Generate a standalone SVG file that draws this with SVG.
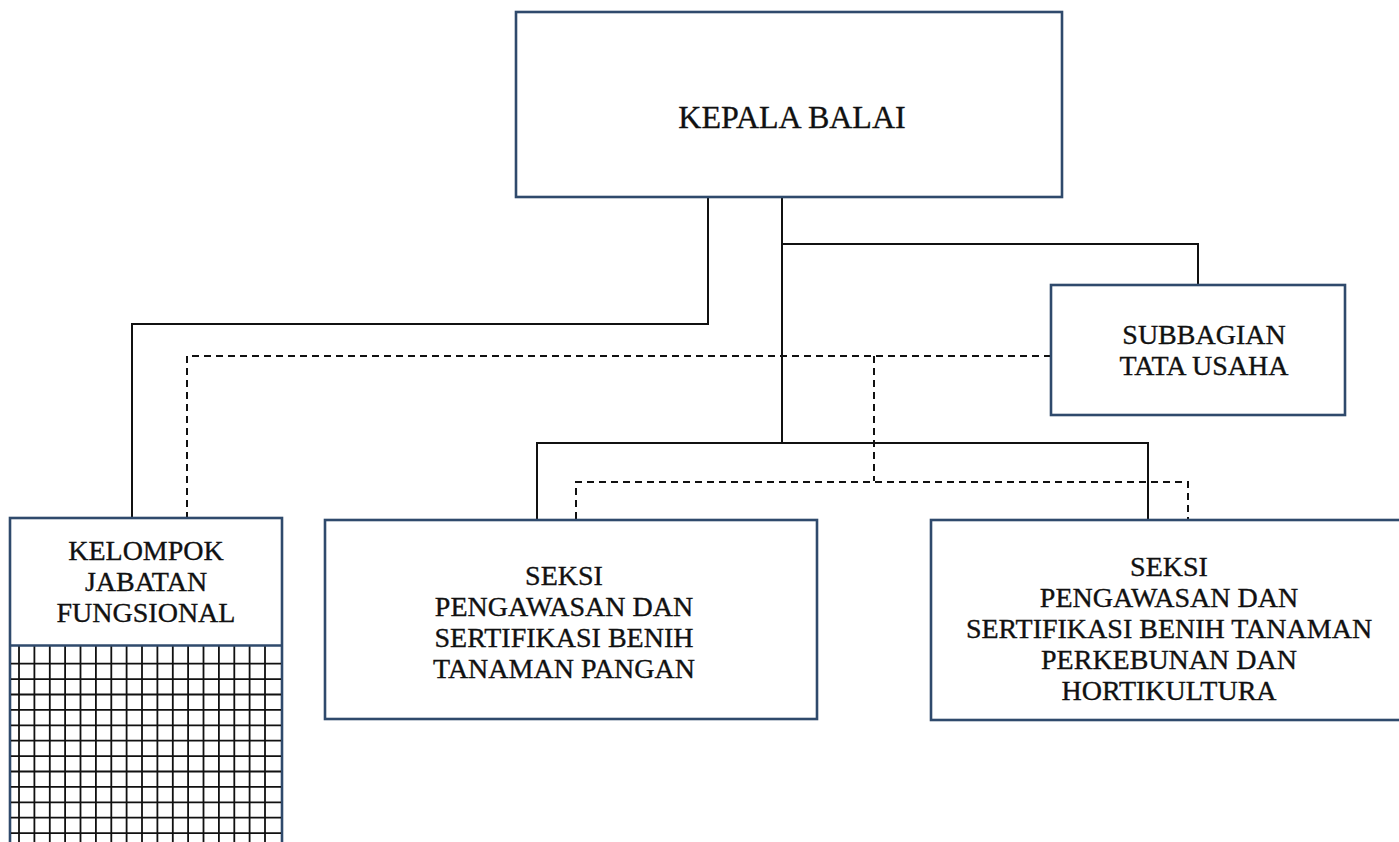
<svg xmlns="http://www.w3.org/2000/svg" width="1399" height="842" viewBox="0 0 1399 842">
<defs>
<style>
.box{fill:#fff;stroke:#2f4a6c;stroke-width:2.6}
.t{font-family:"Liberation Serif","DejaVu Serif",serif;font-size:28px;fill:#111;stroke:#111;stroke-width:0.35;text-anchor:middle}
.s{fill:none;stroke:#111;stroke-width:2}
.d{fill:none;stroke:#111;stroke-width:2;stroke-dasharray:7,5}
.g{fill:none;stroke:#111;stroke-width:1.8}
</style>
</defs>
<rect width="1399" height="842" fill="#fff"/>
<g id="connectors">
<path class="s" d="M708 197V324H132V518"/>
<path class="s" d="M782 197V443"/>
<path class="s" d="M782 244H1198V285"/>
<path class="s" d="M537 519V443H1148V519"/>
<path class="d" d="M1051 356H187V518"/>
<path class="d" d="M874 356V481"/>
<path class="d" d="M576 519V482H1188V519"/>
</g>
<g id="kepala">
<rect class="box" x="516" y="12" width="546" height="185"/>
<text class="t" x="792" y="128" style="font-size:32px">KEPALA BALAI</text>
</g>
<g id="subbagian">
<rect class="box" x="1051" y="285" width="294" height="130"/>
<text class="t" x="1204" y="344">SUBBAGIAN</text>
<text class="t" x="1204" y="375">TATA USAHA</text>
</g>
<g id="kelompok">
<rect class="box" x="10" y="518" width="272" height="340"/>
<path class="g" d="M19 646V842M34.4 646V842M49.8 646V842M65.1 646V842M80.5 646V842M95.9 646V842M111.3 646V842M126.6 646V842M142 646V842M157.4 646V842M172.8 646V842M188.1 646V842M203.5 646V842M218.9 646V842M234.3 646V842M249.6 646V842M265 646V842M11 663.7H281M11 679.1H281M11 694.5H281M11 709.9H281M11 725.3H281M11 740.7H281M11 756.1H281M11 771.5H281M11 786.9H281M11 802.3H281M11 817.7H281M11 833.1H281"/>
<path class="box" d="M10 645.5H282" style="fill:none"/>
<text class="t" x="146" y="560">KELOMPOK</text>
<text class="t" x="146" y="591">JABATAN</text>
<text class="t" x="146" y="622">FUNGSIONAL</text>
</g>
<g id="seksi1">
<rect class="box" x="325" y="520" width="492" height="199"/>
<text class="t" x="564" y="585">SEKSI</text>
<text class="t" x="564" y="616">PENGAWASAN DAN</text>
<text class="t" x="564" y="647">SERTIFIKASI BENIH</text>
<text class="t" x="564" y="678">TANAMAN PANGAN</text>
</g>
<g id="seksi2">
<rect class="box" x="931" y="520" width="490" height="200"/>
<text class="t" x="1169" y="576">SEKSI</text>
<text class="t" x="1169" y="607">PENGAWASAN DAN</text>
<text class="t" x="1169" y="638">SERTIFIKASI BENIH TANAMAN</text>
<text class="t" x="1169" y="669">PERKEBUNAN DAN</text>
<text class="t" x="1169" y="700">HORTIKULTURA</text>
</g>
</svg>
